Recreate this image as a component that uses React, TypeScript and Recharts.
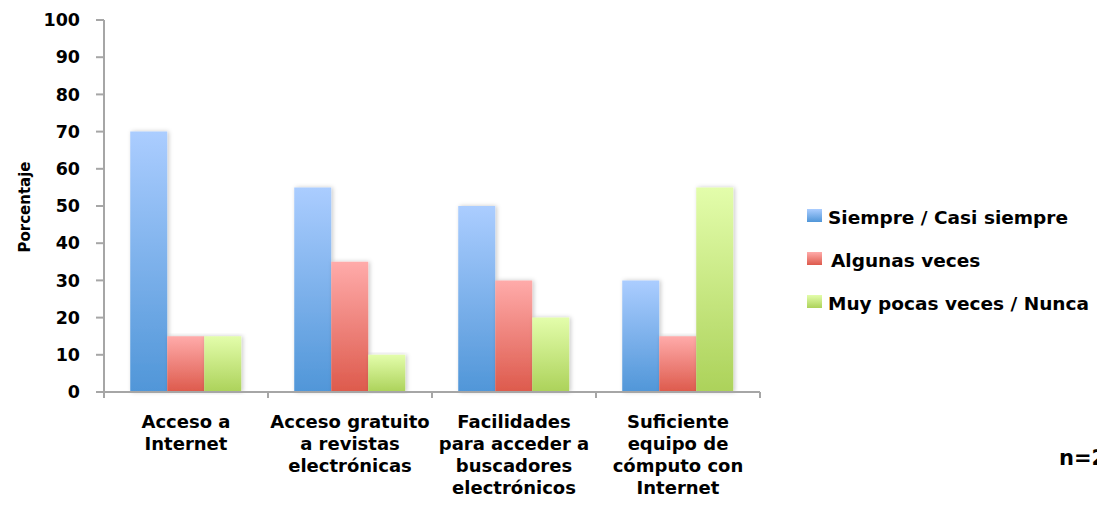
import { BarChart, Bar, XAxis, YAxis, Legend, Rectangle } from 'recharts';

// Survey answers per resource, in percent
const categories = [
  'Acceso a\nInternet',
  'Acceso gratuito\na revistas\nelectrónicas',
  'Facilidades\npara acceder a\nbuscadores\nelectrónicos',
  'Suficiente\nequipo de\ncómputo con\nInternet',
];
const siempre = [70, 55, 50, 30];
const algunas = [15, 35, 30, 15];
const pocas = [15, 10, 20, 55];
const yTicks = [0, 10, 20, 30, 40, 50, 60, 70, 80, 90, 100];

const SERIES = [
  { key: 'siempre', name: 'Siempre / Casi siempre', top: '#abcdff', bottom: '#5096d8' },
  { key: 'algunas', name: 'Algunas veces', top: '#ffabaa', bottom: '#dd5a4c' },
  { key: 'pocas', name: 'Muy pocas veces / Nunca', top: '#e3fdab', bottom: '#acd25a' },
];

const data = categories.map((name, i) => ({
  name,
  siempre: siempre[i],
  algunas: algunas[i],
  pocas: pocas[i],
}));

const FONT = '"DejaVu Sans", sans-serif';
const AXIS_GRAY = '#a6a6a6';

function CategoryTick(props: any) {
  const { x, y, payload, index } = props;
  const half = payload?.offset ?? 82;
  const lines = String(payload.value).split('\n');
  return (
    <g>
      <line x1={x - half} y1={y} x2={x - half} y2={y + 6} stroke={AXIS_GRAY} strokeWidth={2} />
      {index === categories.length - 1 && (
        <line x1={x + half} y1={y} x2={x + half} y2={y + 6} stroke={AXIS_GRAY} strokeWidth={2} />
      )}
      <text x={x} y={y} textAnchor="middle" fontFamily={FONT} fontWeight="bold" fontSize={18} fill="#000">
        {lines.map((line, i) => (
          <tspan key={i} x={x} y={y + 36 + i * 22}>{line}</tspan>
        ))}
      </text>
    </g>
  );
}

function YLabel(props: any) {
  const { viewBox } = props;
  const cx = viewBox.x + 25;
  const cy = viewBox.y + 187;
  return (
    <text
      x={cx}
      y={cy}
      transform={`rotate(-90 ${cx} ${cy})`}
      textAnchor="middle"
      dominantBaseline="central"
      fontFamily={FONT}
      fontWeight="bold"
      fontSize={15}
      fill="#000"
    >
      Porcentaje
    </text>
  );
}

function LegendBox() {
  return (
    <svg width={297} height={130} style={{ overflow: 'hidden' }}>
      {SERIES.map((s, i) => (
        <g key={s.key}>
          <rect x={7} y={9 + i * 43} width={15} height={13} fill={`url(#grad-${s.key})`} />
          <text
            x={i === 1 ? 31 : 28}
            y={24 + i * 43}
            fontFamily={FONT}
            fontWeight="bold"
            fontSize={18.5}
            fill="#000"
          >
            {s.name}
          </text>
        </g>
      ))}
    </svg>
  );
}

const ShadowBar = (props: any) => <Rectangle {...props} filter="url(#barShadow)" />;

export default function App() {
  return (
    <div style={{ position: 'absolute', left: 0, top: 0, width: 1097, height: 508, overflow: 'hidden', background: '#fff' }}>
      <BarChart
        width={1097}
        height={508}
        data={data}
        margin={{ top: 20, right: 337, bottom: 0, left: 0 }}
        barCategoryGap="16%"
        barGap={0}
      >
        <defs>
          {SERIES.map((s) => (
            <linearGradient key={s.key} id={`grad-${s.key}`} x1="0" y1="0" x2="0" y2="1">
              <stop offset="0%" stopColor={s.top} />
              <stop offset="100%" stopColor={s.bottom} />
            </linearGradient>
          ))}
          <filter id="barShadow" x="-20%" y="-5%" width="140%" height="110%">
            <feDropShadow dx={1.5} dy={0} stdDeviation={2} floodColor="#000" floodOpacity={0.22} />
          </filter>
        </defs>
        <XAxis
          dataKey="name"
          height={116}
          interval={0}
          tickLine={false}
          tickSize={0}
          tickMargin={0}
          axisLine={{ stroke: AXIS_GRAY, strokeWidth: 2 }}
          tick={<CategoryTick />}
        />
        <YAxis
          width={104}
          domain={[0, 100]}
          ticks={yTicks}
          interval={0}
          tickSize={8}
          tickMargin={16}
          axisLine={{ stroke: AXIS_GRAY, strokeWidth: 2 }}
          tickLine={{ stroke: AXIS_GRAY, strokeWidth: 2 }}
          tick={{ fontFamily: FONT, fontWeight: 'bold', fontSize: 17.5, fill: '#000' }}
          label={<YLabel />}
        />
        <Legend
          layout="vertical"
          align="center"
          verticalAlign="middle"
          content={() => <LegendBox />}
          wrapperStyle={{ position: 'absolute', left: 800, top: 200, width: 297, height: 130 }}
        />
        {SERIES.map((s) => (
          <Bar
            key={s.key}
            dataKey={s.key}
            name={s.name}
            fill={`url(#grad-${s.key})`}
            shape={ShadowBar}
            isAnimationActive={false}
          />
        ))}
      </BarChart>
      <div
        style={{
          position: 'absolute',
          left: 1059,
          top: 446,
          fontFamily: FONT,
          fontWeight: 'bold',
          fontSize: 21,
          lineHeight: '24px',
          color: '#000',
          whiteSpace: 'nowrap',
        }}
      >
        n=20
      </div>
    </div>
  );
}
